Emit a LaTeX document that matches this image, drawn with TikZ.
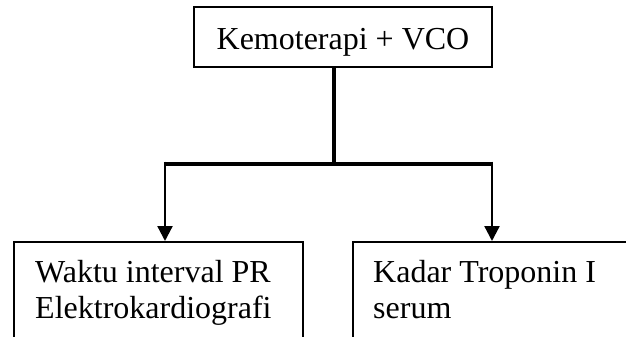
\documentclass[tikz,border=0pt]{standalone}
\usepackage{fontspec}
\setmainfont{Liberation Serif}
\usetikzlibrary{arrows.meta}
\begin{document}
\begin{tikzpicture}[x=1pt,y=1pt,
  box/.style={draw=black,line width=1.8pt,rectangle,inner sep=0pt},
  txt/.style={inner sep=0pt,align=left,font=\fontsize{32}{36}\selectfont},
  trunk/.style={line width=4.8pt},
  arr/.style={line width=2.3pt,-{Triangle[width=15pt,length=15pt]}}]
\useasboundingbox (0,0) rectangle (626,-337);
\clip (0,0) rectangle (626,-337);
\fill[white] (0,0) rectangle (626,-337);
% top box
\node[box,minimum width=298,minimum height=60,text height=24pt,text depth=0pt,
      font=\fontsize{32}{36}\selectfont] (top) at (343,-37) {Kemoterapi + VCO};
% bottom boxes
\node[box,minimum width=289,minimum height=130,anchor=north west] (lbox) at (13,-241) {};
\node[box,minimum width=320,minimum height=130,anchor=north west] (rbox) at (352,-241) {};
\node[txt,anchor=base west] (ltxt) at (35,-318) {Waktu interval PR\\Elektrokardiografi};
\node[txt,anchor=base west] (rtxt) at (373,-318) {Kadar Troponin I\\serum};
% connectors
\coordinate (j) at (334,-164);
\coordinate (lb) at (165,-164);
\coordinate (rb) at (492,-164);
\draw[trunk] (top.south -| j) -- (j);
\draw[trunk] ([xshift=-1.15pt]lb) -- ([xshift=1.15pt]rb);
\draw[arr] ([yshift=2.3pt]lb) -- (lb |- lbox.north);
\draw[arr] ([yshift=2.3pt]rb) -- (rb |- rbox.north);
\end{tikzpicture}
\end{document}
